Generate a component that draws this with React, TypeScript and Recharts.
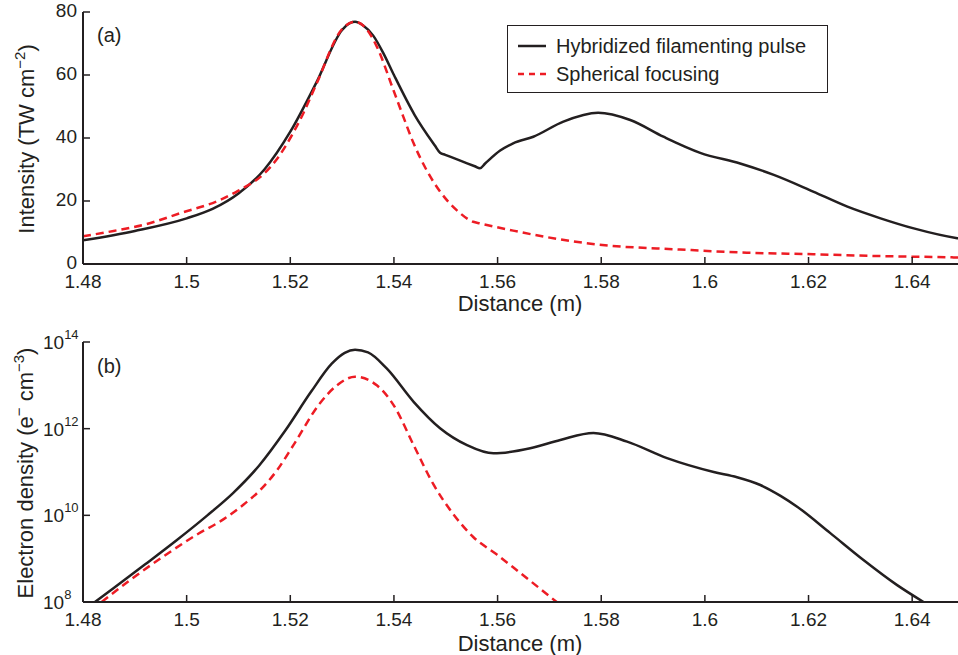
import React from 'react';
import { LineChart, Line, XAxis, YAxis, Legend, Label } from 'recharts';

const INK = '#231f20';
const RED = '#ed1c24';
const FONT = '"Liberation Sans", Arial, Helvetica, sans-serif';

const seriesNames = ['Hybridized filamenting pulse', 'Spherical focusing'];
const xTicks = [1.48, 1.5, 1.52, 1.54, 1.56, 1.58, 1.6, 1.62, 1.64];
const xDomain = [1.48, 1.65];
const intensityTicks = [0, 20, 40, 60, 80];
const densityTicks = [1e8, 1e10, 1e12, 1e14];

// (a) intensity, TW cm^-2 : [distance m, intensity]
const hybridIntensity: [number, number][] = [
  [1.48, 7.5], [1.49, 10.5], [1.5, 14.5], [1.505, 17.5], [1.51, 22.4],
  [1.515, 30.0], [1.52, 42.0], [1.525, 57.5], [1.53, 74.3], [1.5315, 76.5],
  [1.5325, 76.9], [1.534, 75.8], [1.536, 72.5], [1.538, 66.8], [1.54, 60.0],
  [1.544, 47.3], [1.5479, 37.6], [1.5489, 35.3], [1.5499, 34.66], [1.5528, 32.8],
  [1.5556, 31.04], [1.5566, 30.4], [1.5576, 31.9], [1.5605, 36.0], [1.563, 38.3],
  [1.5669, 40.4], [1.5727, 45.2], [1.5794, 48.0], [1.5856, 45.7], [1.592, 40.4],
  [1.5991, 35.3], [1.6068, 31.9], [1.6133, 28.3], [1.6209, 23.0], [1.6275, 18.2],
  [1.6339, 14.5], [1.6403, 11.3], [1.6487, 8.2], [1.65, 7.9],
];
const sphericalIntensity: [number, number][] = [
  [1.48, 8.8], [1.4859, 10.5], [1.4923, 12.7], [1.4987, 16.1], [1.5064, 20.3],
  [1.51, 23.3], [1.515, 28.8], [1.5175, 33.5], [1.52, 40.0], [1.5225, 47.8],
  [1.525, 57.0], [1.53, 74.6], [1.5325, 76.9], [1.5345, 75.0], [1.5367, 69.0],
  [1.5399, 55.2], [1.5418, 46.8], [1.5438, 38.3], [1.5463, 29.8], [1.5489, 23.0],
  [1.5521, 17.1], [1.5553, 13.4], [1.5566, 12.9], [1.563, 10.6], [1.5696, 8.5],
  [1.5792, 6.2], [1.5952, 4.6], [1.6081, 3.6], [1.6209, 3.1], [1.6339, 2.5],
  [1.648, 2.1], [1.65, 2.0],
];

// (b) electron density, log10(e- cm^-3) : [distance m, exponent]
const hybridDensityExp: [number, number][] = [
  [1.4823, 8.0], [1.486, 8.33], [1.492, 8.87], [1.498, 9.42], [1.504, 10.0],
  [1.509, 10.52], [1.514, 11.15], [1.519, 11.95], [1.524, 12.85], [1.528, 13.5],
  [1.5305, 13.75], [1.5325, 13.82], [1.535, 13.76], [1.5386, 13.39], [1.5438, 12.62],
  [1.5489, 12.01], [1.5541, 11.62], [1.5592, 11.43], [1.5663, 11.55], [1.5721, 11.74],
  [1.5785, 11.9], [1.585, 11.7], [1.5927, 11.32], [1.6017, 11.0], [1.6062, 10.88],
  [1.6107, 10.7], [1.6146, 10.45], [1.6178, 10.2], [1.6242, 9.59], [1.6306, 8.97],
  [1.6371, 8.39], [1.6422, 8.0],
];
const sphericalDensityExp: [number, number][] = [
  [1.4836, 8.0], [1.489, 8.5], [1.4955, 9.05], [1.5019, 9.55], [1.507, 9.9],
  [1.511, 10.25], [1.5145, 10.62], [1.5175, 11.05], [1.5206, 11.62], [1.5258, 12.6],
  [1.529, 13.0], [1.5325, 13.2], [1.5367, 13.0], [1.5399, 12.55], [1.5438, 11.62],
  [1.5476, 10.72], [1.5515, 10.02], [1.5553, 9.5], [1.5598, 9.1], [1.563, 8.8],
  [1.5714, 8.0],
];

const toRows = (arr: [number, number][]) => arr.map(([d, v]) => ({ d, v }));
const toLogRows = (arr: [number, number][]) => arr.map(([d, e]) => ({ d, v: Math.pow(10, e) }));

const fmtX = (v: number) => String(Number(v.toFixed(2)));

const BottomTick = (props: any) => {
  const { x, y, payload } = props;
  return (
    <g>
      <line x1={x} x2={x} y1={y} y2={y - 7} stroke={INK} strokeWidth={1.5} />
      <text x={x} y={y + 24} textAnchor="middle" fontSize={19} fontFamily={FONT} fill={INK}>
        {fmtX(payload.value)}
      </text>
    </g>
  );
};
const TopTick = (props: any) => {
  const { x, y } = props;
  return <line x1={x} x2={x} y1={y} y2={y + 7} stroke={INK} strokeWidth={1.5} />;
};
const LeftTick = (props: any) => {
  const { x, y, payload } = props;
  return (
    <g>
      <line x1={x} x2={x + 7} y1={y} y2={y} stroke={INK} strokeWidth={1.5} />
      <text x={x - 6} y={y + 5} textAnchor="end" fontSize={19} fontFamily={FONT} fill={INK}>
        {payload.value}
      </text>
    </g>
  );
};
const LogTick = (props: any) => {
  const { x, y, payload } = props;
  const exp = Math.round(Math.log10(payload.value));
  return (
    <g>
      <line x1={x} x2={x + 7} y1={y} y2={y} stroke={INK} strokeWidth={1.5} />
      <text x={x - 40} y={y + 7} textAnchor="start" fontSize={19} fontFamily={FONT} fill={INK}>
        10<tspan dy={-10} fontSize={13}>{exp}</tspan>
      </text>
    </g>
  );
};
const RightTick = (props: any) => {
  const { x, y } = props;
  return <line x1={x - 7} x2={x} y1={y} y2={y} stroke={INK} strokeWidth={1.5} />;
};

const LegendBox = () => (
  <div
    style={{
      width: 321,
      height: 68,
      boxSizing: 'border-box',
      border: `1.5px solid ${INK}`,
      background: '#fff',
      fontFamily: FONT,
      fontSize: 20,
      color: INK,
      position: 'relative',
    }}
  >
    {seriesNames.map((name, i) => (
      <div key={name} style={{ position: 'absolute', left: 9, top: 8 + i * 28, height: 24, display: 'flex', alignItems: 'center' }}>
        <svg width={30} height={10} style={{ display: 'block' }}>
          <line x1={1} x2={29} y1={5} y2={5} stroke={i === 0 ? INK : RED} strokeWidth={2.5} strokeDasharray={i === 0 ? undefined : '6 5'} />
        </svg>
        <span style={{ marginLeft: 9, lineHeight: '24px', whiteSpace: 'nowrap' }}>{name}</span>
      </div>
    ))}
  </div>
);

const axisLine = { stroke: INK, strokeWidth: 2 };

export default function App() {
  return (
    <div style={{ position: 'absolute', left: 0, top: 0, width: 958, height: 655, overflow: 'hidden', background: '#fff' }}>
      <div style={{ position: 'absolute', left: 0, top: 0 }}>
        <LineChart width={964} height={318} margin={{ top: 12, right: 0, bottom: 0, left: 0 }}>
          <XAxis xAxisId="b" dataKey="d" type="number" domain={xDomain} ticks={xTicks} allowDataOverflow
            height={54} tickSize={0} tickMargin={0} tickLine={false} tick={<BottomTick />} axisLine={axisLine} interval={0}>
            <Label content={() => (
              <text x={520} y={311} textAnchor="middle" fontSize={22} fontFamily={FONT} fill={INK}>Distance (m)</text>
            )} />
          </XAxis>
          <XAxis xAxisId="t" orientation="top" dataKey="d" type="number" domain={xDomain} ticks={xTicks} allowDataOverflow
            height={0} tickSize={0} tickMargin={0} tickLine={false} tick={<TopTick />} axisLine={axisLine} interval={0} />
          <YAxis yAxisId="l" type="number" domain={[0, 80]} ticks={intensityTicks} allowDataOverflow width={83}
            tickSize={0} tickMargin={0} tickLine={false} tick={<LeftTick />} axisLine={axisLine} interval={0}>
            <Label content={() => (
              <text transform="translate(34,139) rotate(-90)" textAnchor="middle" fontSize={22} fontFamily={FONT} fill={INK}>
                Intensity (TW cm<tspan dy={-9} fontSize={15}>−2</tspan><tspan dy={9} fontSize={22}>)</tspan>
              </text>
            )} />
            <Label content={() => (
              <text x={97} y={42} fontSize={20} fontFamily={FONT} fill={INK}>(a)</text>
            )} />
          </YAxis>
          <YAxis yAxisId="r" orientation="right" type="number" domain={[0, 80]} ticks={intensityTicks} allowDataOverflow width={0}
            tickSize={0} tickMargin={0} tickLine={false} tick={<RightTick />} axisLine={axisLine} interval={0} />
          <Legend layout="vertical" align="center" verticalAlign="middle" content={() => <LegendBox />}
            wrapperStyle={{ left: 507, top: 25, width: 321, height: 68 }} />
          <Line xAxisId="b" yAxisId="l" name={seriesNames[0]} data={toRows(hybridIntensity)} dataKey="v" type="monotone"
            stroke={INK} strokeWidth={2.5} dot={false} activeDot={false} isAnimationActive={false} />
          <Line xAxisId="b" yAxisId="l" name={seriesNames[1]} data={toRows(sphericalIntensity)} dataKey="v" type="monotone"
            stroke={RED} strokeWidth={2.5} strokeDasharray="8 5" dot={false} activeDot={false} isAnimationActive={false} />
        </LineChart>
      </div>
      <div style={{ position: 'absolute', left: 0, top: 318 }}>
        <LineChart width={964} height={337} margin={{ top: 24, right: 0, bottom: 0, left: 0 }}>
          <XAxis xAxisId="b" dataKey="d" type="number" domain={xDomain} ticks={xTicks} allowDataOverflow
            height={53} tickSize={0} tickMargin={0} tickLine={false} tick={<BottomTick />} axisLine={axisLine} interval={0}>
            <Label content={() => (
              <text x={520} y={333} textAnchor="middle" fontSize={22} fontFamily={FONT} fill={INK}>Distance (m)</text>
            )} />
          </XAxis>
          <XAxis xAxisId="t" orientation="top" dataKey="d" type="number" domain={xDomain} ticks={xTicks} allowDataOverflow
            height={0} tickSize={0} tickMargin={0} tickLine={false} tick={<TopTick />} axisLine={axisLine} interval={0} />
          <YAxis yAxisId="l" type="number" scale="log" domain={[1e8, 1e14]} ticks={densityTicks} allowDataOverflow width={83}
            tickSize={0} tickMargin={0} tickLine={false} tick={<LogTick />} axisLine={axisLine} interval={0}>
            <Label content={() => (
              <text transform="translate(33,155) rotate(-90)" textAnchor="middle" fontSize={22} fontFamily={FONT} fill={INK}>
                Electron density (e<tspan dy={-9} fontSize={15}>−</tspan><tspan dy={9} fontSize={22}> cm</tspan>
                <tspan dy={-9} fontSize={15}>−3</tspan><tspan dy={9} fontSize={22}>)</tspan>
              </text>
            )} />
            <Label content={() => (
              <text x={97} y={55} fontSize={20} fontFamily={FONT} fill={INK}>(b)</text>
            )} />
          </YAxis>
          <YAxis yAxisId="r" orientation="right" type="number" scale="log" domain={[1e8, 1e14]} ticks={densityTicks} allowDataOverflow width={0}
            tickSize={0} tickMargin={0} tickLine={false} tick={<RightTick />} axisLine={axisLine} interval={0} />
          <Line xAxisId="b" yAxisId="l" name={seriesNames[0]} data={toLogRows(hybridDensityExp)} dataKey="v" type="monotone"
            stroke={INK} strokeWidth={2.5} dot={false} activeDot={false} isAnimationActive={false} />
          <Line xAxisId="b" yAxisId="l" name={seriesNames[1]} data={toLogRows(sphericalDensityExp)} dataKey="v" type="monotone"
            stroke={RED} strokeWidth={2.5} strokeDasharray="8 5" dot={false} activeDot={false} isAnimationActive={false} />
        </LineChart>
      </div>
    </div>
  );
}
